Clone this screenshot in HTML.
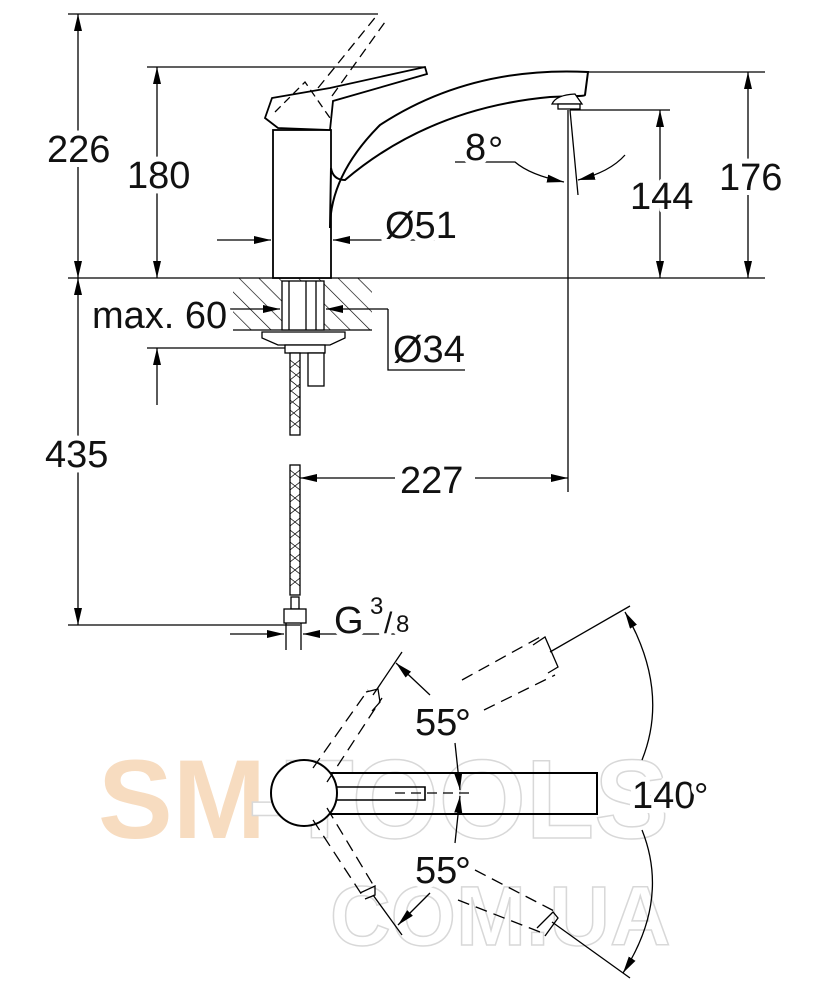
<!DOCTYPE html>
<html><head><meta charset="utf-8"><style>
html,body{margin:0;padding:0;background:#fff}
svg{display:block}
text{font-family:"Liberation Sans",sans-serif;fill:#111}
.t text{paint-order:stroke;stroke:#fff;stroke-width:10px;stroke-linejoin:round}
</style></head><body>
<svg width="834" height="1000" viewBox="0 0 834 1000" xmlns="http://www.w3.org/2000/svg">
<defs>
<marker id="a" viewBox="0 0 10 10" refX="10" refY="5" markerWidth="17" markerHeight="8" markerUnits="userSpaceOnUse" orient="auto-start-reverse" preserveAspectRatio="none"><path d="M0,0L10,5L0,10z" fill="#000"/></marker>
<pattern id="h" width="14" height="14" patternUnits="userSpaceOnUse" patternTransform="rotate(-45)"><line x1="0" y1="0" x2="0" y2="14" stroke="#000" stroke-width="1.3"/></pattern>
</defs>
<text x="98" y="838" font-size="112" font-weight="bold" style="fill:#f7dcc0">SM</text>
<text x="248" y="838" font-size="112" font-weight="bold" style="fill:#fff;stroke:#d8d8d8;stroke-width:1.5">-TOOLS</text>
<text x="330" y="945" font-size="84" font-weight="bold" style="fill:#fff;stroke:#d8d8d8;stroke-width:1.5">COM.UA</text>

<g stroke="#000" stroke-width="1.3" fill="none">
<line x1="68" y1="14" x2="378" y2="14"/>
<line x1="147" y1="67" x2="425" y2="67"/>
<line x1="68" y1="278" x2="765" y2="278"/>
<line x1="585" y1="72" x2="765" y2="72"/>
<line x1="570" y1="110" x2="670" y2="110"/>
<line x1="68" y1="625" x2="300" y2="625"/>
<line x1="147" y1="348" x2="300" y2="348"/>
<line x1="78" y1="14" x2="78" y2="278" marker-start="url(#a)" marker-end="url(#a)"/>
<line x1="157" y1="67" x2="157" y2="278" marker-start="url(#a)" marker-end="url(#a)"/>
<line x1="748" y1="72" x2="748" y2="278" marker-start="url(#a)" marker-end="url(#a)"/>
<line x1="660" y1="110" x2="660" y2="278" marker-start="url(#a)" marker-end="url(#a)"/>
<line x1="78" y1="278" x2="78" y2="625" marker-start="url(#a)" marker-end="url(#a)"/>
<line x1="157" y1="378" x2="157" y2="405"/>
<line x1="157" y1="348" x2="157" y2="378" marker-start="url(#a)"/>
<rect x="233" y="278" width="139" height="52" fill="url(#h)" stroke="none"/>
<line x1="233" y1="330" x2="372" y2="330"/>
<rect x="282" y="281" width="42" height="49" fill="#fff"/>
<line x1="289" y1="281" x2="289" y2="330"/><line x1="306" y1="281" x2="306" y2="330"/><line x1="316" y1="281" x2="316" y2="330"/>
<path d="M262,332 L345,332 L345,338 L330,345 L278,345 L262,338 Z" fill="#fff"/>
<rect x="285" y="345" width="40" height="8" fill="#fff"/>
<rect x="308" y="353" width="16" height="33" fill="#fff"/>
<rect x="290" y="353" width="10" height="82" fill="#fff"/>
<path d="M290,360 l10,8 M290,370 l10,8 M290,380 l10,8 M290,390 l10,8 M290,400 l10,8 M290,410 l10,8 M290,420 l10,8 M300,360 l-10,8 M300,372 l-10,8 M300,384 l-10,8 M300,396 l-10,8 M300,408 l-10,8 M300,420 l-10,8" stroke-width="0.8"/>
<rect x="290" y="465" width="10" height="130" fill="#fff"/>
<path d="M290,470 l10,8 M290,482 l10,8 M290,494 l10,8 M290,506 l10,8 M290,518 l10,8 M290,530 l10,8 M290,542 l10,8 M290,554 l10,8 M290,566 l10,8 M290,578 l10,8 M300,470 l-10,8 M300,482 l-10,8 M300,494 l-10,8 M300,506 l-10,8 M300,518 l-10,8 M300,530 l-10,8 M300,542 l-10,8 M300,554 l-10,8 M300,566 l-10,8 M300,578 l-10,8" stroke-width="0.8"/>
<rect x="291" y="597" width="8" height="12" fill="#fff"/>
<rect x="284" y="609" width="22" height="14" fill="#fff"/>
<line x1="286" y1="623" x2="286" y2="650"/><line x1="301" y1="623" x2="301" y2="650"/>
<rect x="273" y="130" width="58" height="148" fill="#fff" stroke-width="1.8"/>
<path d="M272,98 L330,88 L425,67 L427,74 L333,101 L330,130 L278,128 L265,118 Z" fill="#fff" stroke-width="1.8"/>
<path d="M275,112 L305,82 L330,118" stroke-dasharray="8,5"/>
<path d="M318,88 L378,14 M332,96 L385,22" stroke-dasharray="10,6"/>
<path d="M331,168 Q333,180 345,180 Q430,108 550,97 L575,96 Q585,96 585,95 L588,72 Q470,66 380,125 Q330,175 330,228 Z" fill="#fff" stroke-width="2"/>
<path d="M552,104 Q556,95 575,94 L582,104 Z" fill="#fff"/>
<rect x="558" y="104" width="22" height="5" fill="#fff"/>
<line x1="568" y1="110" x2="568" y2="492"/>
<line x1="570" y1="110" x2="578" y2="195"/>
<path d="M455,162 L515,162 Q530,175 564,182" marker-end="url(#a)"/>
<path d="M625,155 Q610,172 578,180" marker-end="url(#a)"/>
<line x1="217" y1="240" x2="271" y2="240" marker-end="url(#a)"/>
<line x1="455" y1="240" x2="333" y2="240" marker-end="url(#a)"/>
<line x1="228" y1="309" x2="280" y2="309" marker-end="url(#a)"/>
<line x1="388" y1="309" x2="326" y2="309" marker-end="url(#a)"/>
<path d="M388,309 L388,370 L465,370"/>
<line x1="300" y1="478" x2="395" y2="478" marker-start="url(#a)"/>
<line x1="475" y1="478" x2="568" y2="478" marker-end="url(#a)"/>
<line x1="230" y1="634" x2="284" y2="634" marker-end="url(#a)"/>
<line x1="400" y1="634" x2="303" y2="634" marker-end="url(#a)"/>

<circle cx="304" cy="793" r="33" fill="#fff" stroke-width="2"/>
<path d="M330,773 L597,773 L597,814 L330,814" stroke-width="2"/>
<path d="M336,787 L425,787 L425,800 L336,800" stroke-width="1.6"/>
<line x1="395" y1="793" x2="470" y2="793" stroke-dasharray="10,6"/>
<g stroke-dasharray="12,7">
<line x1="313" y1="768" x2="368" y2="690"/>
<line x1="327" y1="782" x2="382" y2="698"/>
<line x1="313" y1="820" x2="362" y2="895"/>
<line x1="327" y1="808" x2="375" y2="888"/>
<line x1="462" y1="680" x2="540" y2="637"/>
<line x1="484" y1="710" x2="555" y2="675"/>
<line x1="458" y1="900" x2="540" y2="932"/>
<line x1="475" y1="870" x2="556" y2="912"/>
</g>
<path d="M366,692 L378,689 L380,702 L372,711"/>
<path d="M360,893 L375,886 L375,895 L365,899"/>
<path d="M533,645 L545,637 L558,667 L548,673"/>
<path d="M537,928 L553,912 L558,918 L545,936"/>
<line x1="373" y1="695" x2="402" y2="652"/>
<line x1="373" y1="895" x2="402" y2="935"/>
<line x1="550" y1="652" x2="630" y2="606"/>
<line x1="552" y1="922" x2="630" y2="978"/>
<path d="M430,695 L396,663" marker-end="url(#a)"/>
<path d="M430,893 L398,925" marker-end="url(#a)"/>
<path d="M455,743 L460,790" marker-end="url(#a)"/>
<path d="M455,843 L460,796" marker-end="url(#a)"/>
<path d="M642,760 Q670,690 625,612" marker-end="url(#a)"/>
<path d="M642,830 Q670,900 623,973" marker-end="url(#a)"/>
</g>

<g font-size="38" class="t">
<text x="47" y="162">226</text>
<text x="127" y="188">180</text>
<text x="719" y="190">176</text>
<text x="630" y="209">144</text>
<text x="465" y="160">8</text><text x="488" y="163" font-size="38">°</text>
<text x="385" y="238">Ø51</text>
<text x="45" y="467">435</text>
<text x="92" y="328">max. 60</text>
<text x="393" y="362">Ø34</text>
<text x="400" y="493">227</text>
<text x="334" y="633">G</text><text x="370" y="614" font-size="24">3</text><text x="384" y="633" font-size="30">/</text><text x="396" y="632" font-size="24">8</text>
<text x="415" y="735">55</text><text x="455" y="737" font-size="40">°</text>
<text x="415" y="883">55</text><text x="455" y="885" font-size="40">°</text>
<text x="632" y="808">140</text><text x="694" y="808" font-size="36">°</text>
</g>
</svg>
</body></html>
